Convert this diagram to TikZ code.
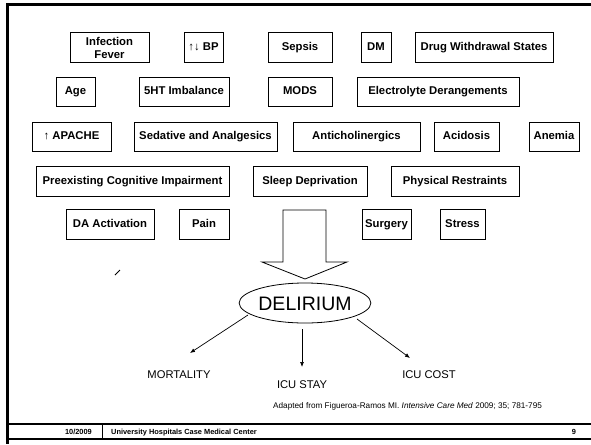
\documentclass[tikz,border=0pt]{standalone}
\usepackage{fontspec}
\setmainfont{Liberation Sans}
\usetikzlibrary{shapes.geometric,arrows.meta}
\begin{document}
\begin{tikzpicture}[x=1pt,y=-1pt,
  basebox/.style={draw, line width=0.8pt, font=\bfseries\fontsize{11.3}{13}\selectfont, align=center, inner sep=0pt, minimum height=29.5pt},
  box/.style={basebox, text height=8.2pt, text depth=2.4pt},
  outc/.style={font=\fontsize{11.2}{13}\selectfont, inner sep=0pt, text height=8.1pt, text depth=0pt},
  conn/.style={line width=0.7pt, -{Latex[length=5pt,width=4pt]}},
  foot/.style={font=\bfseries\fontsize{7.4}{9}\selectfont, inner sep=0pt, text height=5.4pt, text depth=0pt}]
\useasboundingbox (0,0) rectangle (591,444);
% frame
\draw[line width=3pt] (7.5,3.5) -- (7.5,444);
\draw[line width=3pt] (6,5) -- (591,5);
\draw[line width=2pt] (6,424) -- (591,424);
\draw[line width=1.3pt] (6,439) -- (591,439);
\draw[line width=0.8pt] (102,424) -- (102,439);
% row 1
\node[basebox, minimum width=79pt] (inf) at (109.5,47.5) {Infection\\Fever};
\node[box, minimum width=39pt] (bp) at (203.5,47.5) {↑↓ BP};
\node[box, minimum width=64pt] (sep) at (300,47.5) {Sepsis};
\node[box, minimum width=30pt] (dm) at (376,47.5) {DM};
\node[box, minimum width=138pt] (drug) at (484,47.5) {Drug Withdrawal States};
% row 2
\node[box, minimum width=39pt] (age) at (75.5,92) {Age};
\node[box, minimum width=90pt] (sht) at (184,92) {5HT Imbalance};
\node[box, minimum width=64pt] (mods) at (300,92) {MODS};
\node[box, minimum width=162pt] (elec) at (438,92) {Electrolyte Derangements};
% row 3
\node[box, minimum width=79pt] (apache) at (71.5,137) {↑ APACHE};
\node[box, minimum width=143pt] (sed) at (205.5,137) {Sedative and Analgesics};
\node[box, minimum width=127pt] (anti) at (356.5,137) {Anticholinergics};
\node[box, minimum width=65pt] (acid) at (466.5,137) {Acidosis};
\node[box, minimum width=50pt] (anem) at (554,137) {Anemia};
% row 4
\node[box, minimum width=193pt] (pre) at (132.5,181.5) {Preexisting Cognitive Impairment};
\node[box, minimum width=114pt] (sleep) at (310,181.5) {Sleep Deprivation};
\node[box, minimum width=128pt] (phys) at (455,181.5) {Physical Restraints};
% row 5
\node[box, minimum width=88pt] (da) at (110,224.5) {DA Activation};
\node[box, minimum width=50pt] (pain) at (204,224.5) {Pain};
\node[box, minimum width=49pt] (surg) at (386.5,224.5) {Surgery};
\node[box, minimum width=45pt] (stress) at (462.5,224.5) {Stress};
% block arrow
\draw[line width=0.8pt, line join=miter] (283,210) -- (326,210) -- (326,262) -- (347,262) -- (305,279) -- (262,262) -- (283,262) -- cycle;
% stray stroke
\draw[line width=0.8pt] (115,275) -- (120,270);
% delirium
\node[draw, ellipse, line width=0.8pt, minimum width=114pt, minimum height=40pt, inner sep=0pt, font=\fontsize{19.5}{22}\selectfont, text height=14pt, text depth=0pt] (del) at (305,303) {DELIRIUM};
\coordinate (mend) at (190,353);
\coordinate (send) at (302,367);
\coordinate (cend) at (410,358);
\draw[conn] (248,315) -- (mend);
\draw[conn] (302,329) -- (send);
\draw[conn] (357,319) -- (cend);
\node[outc] (mort) at (179,374) {MORTALITY};
\node[outc] (stay) at (302,384) {ICU STAY};
\node[outc] (cost) at (429,374) {ICU COST};
\node[inner sep=0pt, anchor=west, font=\fontsize{8.2}{10}\selectfont] (src) at (273,406) {Adapted from Figueroa-Ramos MI. \textit{Intensive Care Med} 2009; 35; 781-795};
% footer
\node[foot, anchor=east] (date) at (92,431.5) {10/2009};
\node[foot, anchor=west] (univ) at (111,431.5) {University Hospitals Case Medical Center};
\node[foot] (pg) at (574,431.5) {9};
\end{tikzpicture}
\end{document}
